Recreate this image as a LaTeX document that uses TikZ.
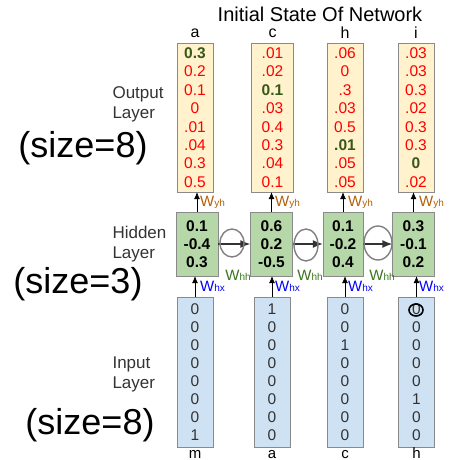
\documentclass[tikz,border=0pt]{standalone}
\usepackage{fontspec}
\setmainfont{Liberation Sans}
\usetikzlibrary{arrows.meta}
\definecolor{outfill}{HTML}{FFF2CC}
\definecolor{hidfill}{HTML}{B6D7A8}
\definecolor{infill}{HTML}{CFE2F3}
\definecolor{boxline}{HTML}{8A8A8A}
\definecolor{valred}{HTML}{FF0000}
\definecolor{valgreen}{HTML}{38571A}
\definecolor{wyhcol}{HTML}{B45F06}
\definecolor{whhcol}{HTML}{38761D}
\definecolor{whxcol}{HTML}{0000FF}
\newcommand{\mx}[1]{{\color{valgreen}\bfseries #1}}
\newcommand{\wsub}[1]{W{\fontsize{10}{10}\selectfont #1}}
\tikzset{
  outbox/.style={draw=boxline, fill=outfill, minimum width=36pt, minimum height=149pt,
    inner sep=0pt, align=center, text=valred, font=\fontsize{15.5}{18.4}\selectfont},
  hidbox/.style={draw=boxline, fill=hidfill, minimum width=42pt, minimum height=64pt,
    inner sep=0pt, align=center, font=\fontsize{15.5}{18}\selectfont\bfseries},
  inbox/.style={draw=boxline, fill=infill, minimum width=36pt, minimum height=150pt,
    inner sep=0pt, align=center, text=black!80, font=\fontsize{15.5}{18}\selectfont},
  word/.style={font=\fontsize{16}{16}\selectfont},
  foot/.style={font=\fontsize{15}{15}\selectfont, inner sep=0pt, anchor=base},
  side/.style={align=left, anchor=west, font=\fontsize{17}{20}\selectfont, text=black!80},
  hand/.style={font=\fontsize{36}{36}\selectfont},
  wlab/.style={font=\fontsize{15}{15}\selectfont, inner sep=1pt},
  up/.style={-{Latex[length=7pt,width=6pt]}, semithick},
  across/.style={-{Latex[length=10pt,width=8pt]}, line width=1.4pt, black!80},
  scribble/.style={draw=gray, line width=1.4pt}
}
\begin{document}
\begin{tikzpicture}[x=1pt, y=-1pt]
  \useasboundingbox (0,0) rectangle (451,460);
  \node[font=\fontsize{20}{20}\selectfont] (title) at (320,14) {Initial State Of Network};

  % output layer
  \node[outbox] (o1) at (195,117.5) {\mx{0.3}\\0.2\\0.1\\0\\.01\\.04\\0.3\\0.5};
  \node[outbox, minimum width=42pt] (o2) at (272.5,117.5) {.01\\.02\\\mx{0.1}\\.03\\0.4\\0.3\\.04\\0.1};
  \node[outbox] (o3) at (345,117.5) {.06\\0\\.3\\.03\\0.5\\\mx{.01}\\.05\\.05};
  \node[outbox] (o4) at (416,117.5) {.03\\.03\\0.3\\.02\\0.3\\0.3\\\mx{0}\\.02};
  \node[word] (ta) at (195,33) {a};
  \node[word] (tc) at (272.5,33) {c};
  \node[word] (th) at (345,33) {h};
  \node[word] (ti) at (416,33) {i};

  % hidden layer
  \node[hidbox] (h1) at (197,244) {0.1\\-0.4\\0.3};
  \node[hidbox] (h2) at (271.5,244) {0.6\\0.2\\-0.5};
  \node[hidbox, minimum width=40pt] (h3) at (343,244) {0.1\\-0.2\\0.4};
  \node[hidbox] (h4) at (413.5,244) {0.3\\-0.1\\0.2};

  % input layer
  \node[inbox] (i1) at (195,372) {0\\0\\0\\0\\0\\0\\0\\1};
  \node[inbox] (i2) at (272,372) {1\\0\\0\\0\\0\\0\\0\\0};
  \node[inbox] (i3) at (345,372) {0\\0\\1\\0\\0\\0\\0\\0};
  \node[inbox] (i4) at (416.5,372) {0\\0\\0\\0\\0\\1\\0\\0};
  \node[foot] (bm) at (195,458) {m};
  \node[foot] (ba) at (272,458) {a};
  \node[foot] (bc) at (345,458) {c};
  \node[foot] (bh) at (416.5,458) {h};

  % connections
  \draw[up] (i1.north) -- (i1.north |- h1.south);
  \draw[up] (i2.north) -- (i2.north |- h2.south);
  \draw[up] (i3.north) -- (i3.north |- h3.south);
  \draw[up] (i4.north) -- (i4.north |- h4.south);
  \draw[up] (h1.north) -- (h1.north |- o1.south);
  \draw[up] (h2.north) -- (h2.north |- o2.south);
  \draw[up] (h3.north) -- (h3.north |- o3.south);
  \draw[up] (h4.north) -- (h4.north |- o4.south);
  \draw[across] (h1) -- (h2);
  \draw[across] (h2) -- (h3);
  \draw[across] (h3) -- (h4);

  % weight labels
  \node[wlab, text=wyhcol, anchor=west] (wy1) at (199,202) {\wsub{yh}};
  \node[wlab, text=wyhcol, anchor=west] (wy2) at (274,202) {\wsub{yh}};
  \node[wlab, text=wyhcol, anchor=west] (wy3) at (347,202) {\wsub{yh}};
  \node[wlab, text=wyhcol, anchor=west] (wy4) at (418,202) {\wsub{yh}};
  \node[wlab, text=whxcol, anchor=west] (wx1) at (199,286) {\wsub{hx}};
  \node[wlab, text=whxcol, anchor=west] (wx2) at (274,286) {\wsub{hx}};
  \node[wlab, text=whxcol, anchor=west] (wx3) at (347,286) {\wsub{hx}};
  \node[wlab, text=whxcol, anchor=west] (wx4) at (418,286) {\wsub{hx}};
  \node[wlab, text=whhcol] (wh1) at (238,275) {\wsub{hh}};
  \node[wlab, text=whhcol] (wh2) at (310,275) {\wsub{hh}};
  \node[wlab, text=whhcol] (wh3) at (382,275) {\wsub{hh}};

  % layer names
  \node[side] (lout) at (109,104) {Output\\Layer};
  \node[side] (lhid) at (109,244) {Hidden\\Layer};
  \node[side] (lin) at (109,374) {Input\\Layer};
  \node[hand] (s1) at (83,148) {(size=8)};
  \node[hand] (s2) at (78,284) {(size=3)};
  \node[hand] (s3) at (90,425) {(size=8)};

  % pen marks
  \draw[scribble] (232,243) ellipse (12pt and 14pt);
  \draw[scribble] (306,245) ellipse (12pt and 16pt);
  \draw[scribble] (378,243) ellipse (14pt and 17pt);
  \draw[line width=1.6pt] (416,310) ellipse (7pt and 6pt);
\end{tikzpicture}
\end{document}
